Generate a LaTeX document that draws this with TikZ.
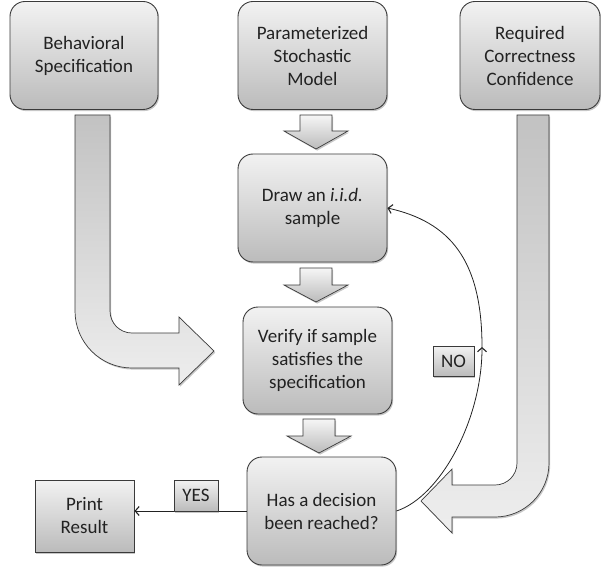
\documentclass[tikz,border=0pt]{standalone}
\usepackage{fontspec}
\setmainfont{Carlito}
\usetikzlibrary{arrows.meta,shadows}
\definecolor{boxtop}{HTML}{F2F2F2}
\definecolor{boxbot}{HTML}{BBBBBB}
\definecolor{bord}{HTML}{3A3A3A}
\definecolor{txt}{HTML}{222222}
\definecolor{bendtop}{HTML}{C2C2C2}
\definecolor{bendbot}{HTML}{EEEEEE}
\newcommand\mainf{\fontsize{19}{23}\selectfont}
\tikzset{
  shad/.style={drop shadow={shadow xshift=1.2pt,shadow yshift=-1.6pt,opacity=0.22,fill=black}},
  rbox/.style={draw=bord,line width=0.9pt,rounded corners=15pt,top color=boxtop,bottom color=boxbot,
    align=center,font=\mainf,text=txt,inner sep=0pt,shad},
  sbox/.style={draw=bord,line width=0.9pt,top color=boxtop,bottom color=boxbot,
    align=center,font=\mainf,text=txt,inner sep=0pt,shad},
  downarrow/.style={draw=bord,line width=0.7pt,top color=boxtop!70!white,bottom color=boxbot,shad},
  bendarrow/.style={draw=bord,line width=0.7pt,top color=bendtop,bottom color=bendbot,shad},
  conn/.style={draw=txt,line width=0.8pt,-{Straight Barb[length=4pt,width=9pt,line width=1.1pt]}}
}
\begin{document}
\begin{tikzpicture}[x=1pt,y=-1pt]
\useasboundingbox (0,0) rectangle (601,569);

% block arrows
\path[downarrow] (300,115) -- (332,115) -- (332,131) -- (348,131) -- (316,149) -- (284,131) -- (300,131) -- cycle;
\path[downarrow] (300,268) -- (332,268) -- (332,285) -- (348,285) -- (316,302) -- (284,285) -- (300,285) -- cycle;
\path[downarrow] (303,419) -- (335,419) -- (335,436) -- (351,436) -- (319,453) -- (287,436) -- (303,436) -- cycle;

\path[bendarrow] (75,115) -- (110,115) -- (110,311)
  .. controls (110,323.2) and (119.8,333) .. (132,333)
  -- (179,333) -- (179,317) -- (214,351) -- (179,385) -- (179,368) -- (132,368)
  .. controls (100.5,368) and (75,342.5) .. (75,311) -- cycle;

\path[bendarrow] (517,115) -- (549,115) -- (549,463)
  .. controls (549,492.8) and (524.8,517) .. (495,517)
  -- (452,517) -- (452,533) -- (421,501) -- (452,469) -- (452,485) -- (495,485)
  .. controls (507.2,485) and (517,475.2) .. (517,463) -- cycle;

% boxes
\node[rbox,minimum width=148pt,minimum height=108pt] (spec) at (84,55.5) {Behavioral\\Specification};
\node[rbox,minimum width=149pt,minimum height=108pt] (param) at (312.5,55.5) {Parameterized\\Stochastic\\Model};
\node[rbox,minimum width=140pt,minimum height=108pt] (conf) at (530,55.5) {Required\\Correctness\\Confidence};
\node[rbox,minimum width=149pt,minimum height=108pt] (drawb) at (312.5,208) {Draw an \textit{i.i.d.}\\sample};
\node[rbox,minimum width=149pt,minimum height=107pt] (verify) at (317.5,360.5) {Verify if sample\\satisfies the\\specification};
\node[rbox,minimum width=149pt,minimum height=108pt] (has) at (321.5,511) {Has a decision\\been reached?};
\node[sbox,minimum width=99pt,minimum height=72pt] (print) at (84.5,516) {Print\\Result};

% connectors
\coordinate (mid) at (482,347);
\draw[conn] (has.west) -- (has.west -| print.east);
\draw[conn] (has.east) .. controls (440,497) and (482,420) .. (mid);
\draw[conn] (mid) .. controls (482,260) and (450,222) .. (drawb.east);

% labels
\node[sbox,minimum width=44pt,minimum height=31pt] (yes) at (196,495.5) {YES};
\node[sbox,minimum width=41pt,minimum height=30pt] (no) at (453.5,361) {NO};
\end{tikzpicture}
\end{document}
